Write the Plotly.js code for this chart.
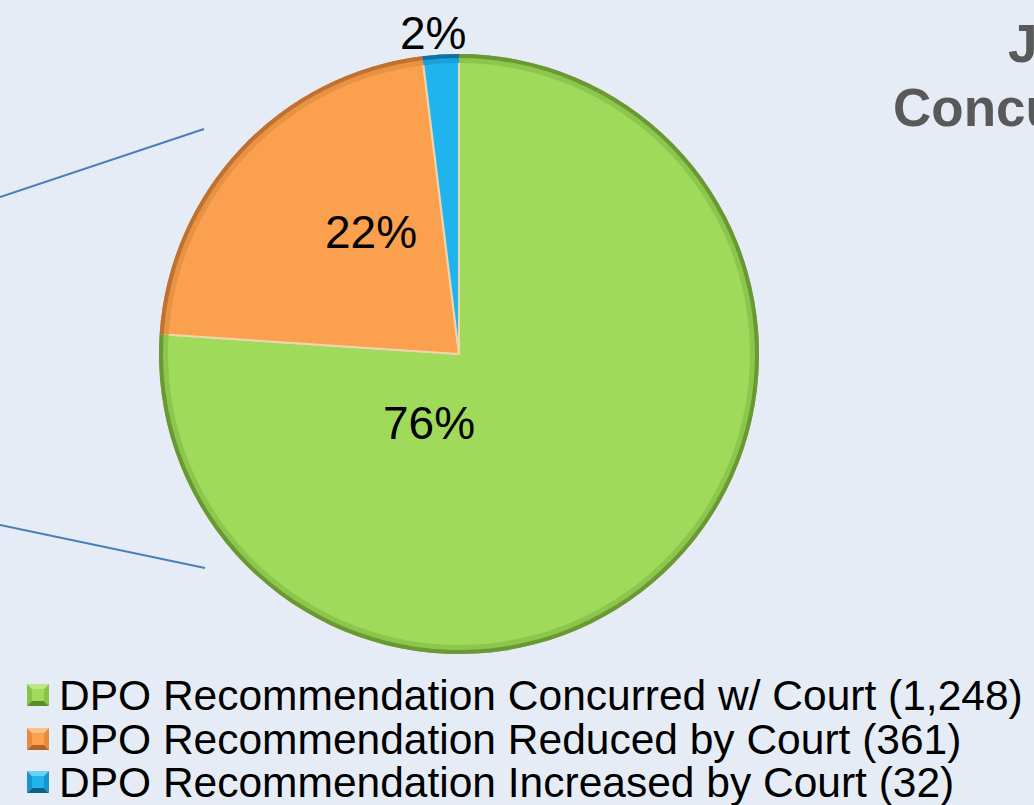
<!DOCTYPE html>
<html>
<head>
<meta charset="utf-8">
<script src="https://cdn.plot.ly/plotly-3.0.1.min.js"></script>
<style>
  html, body { margin: 0; padding: 0; background: #E6ECF6; }
  #chart { width: 1034px; height: 805px; }
</style>
</head>
<body>
<div id="chart"></div>
<script>
// ---- data ----
const categories = [
  "DPO Recommendation Concurred w/ Court",
  "DPO Recommendation Reduced by Court",
  "DPO Recommendation Increased by Court"
];
const counts = [1248, 361, 32];
const titleLines = ["J", "Concu"];

// ---- styling ----
const mainColors = ["#A0DA5A", "#FAA04E", "#20B4EE"];
const midColors  = ["#8CC64C", "#E89244", "#1AA0DA"];
const rimColors  = ["#6A9834", "#C07030", "#1072A4"];
const lightColors = ["#BDE784", "#FDC088", "#66D2FA"];
const darkColors  = ["#5E8A2E", "#B06426", "#0D5F8A"];
const sideColors  = ["#88C446", "#E68A3C", "#1896CC"];

const W = 1034, H = 805;
const px = x => x / W;
const py = y => 1 - y / H;

const total = counts.reduce((a, b) => a + b, 0);
const pctText = counts.map(v => Math.round(v / total * 100) + "%");
const legendText = categories.map((c, i) => c + " (" + counts[i].toLocaleString("en-US") + ")");

// pie geometry (layout)
const cx = 459, cy = 354, R = 300;

function pieLayer(colors, inset, hole, lineW) {
  return {
    type: "pie",
    values: counts,
    labels: categories,
    sort: false,
    direction: "clockwise",
    rotation: 0,
    hole: hole,
    textinfo: "none",
    hoverinfo: "label+value+percent",
    showlegend: false,
    marker: { colors: colors, line: { color: "#EDD6AE", width: lineW } },
    domain: { x: [px(cx - R + inset), px(cx + R - inset)], y: [py(cy + R - inset), py(cy - R + inset)] }
  };
}
const traces = [
  pieLayer(mainColors, 1, 0, 2),
  pieLayer(midColors, 0, (R - 9) / R, 0),
  pieLayer(rimColors, 0, (R - 4) / R, 0)
];

const annotations = [];
const labelPos = [[429, 423], [371, 232], [433, 33]];
pctText.forEach((t, i) => {
  annotations.push({
    xref: "paper", yref: "paper", x: px(labelPos[i][0]), y: py(labelPos[i][1]),
    xanchor: "center", yanchor: "middle", showarrow: false, text: t,
    font: { family: "Liberation Sans, Arial, sans-serif", size: 46, color: "#000000" }
  });
});

// legend (custom)
const rowY = [695, 739, 782];
const shapes = [];
legendText.forEach((t, i) => {
  const y0 = rowY[i] - 11, y1 = rowY[i] + 11, x0 = 27, x1 = 49, xm = 38, ym = rowY[i];
  const tri = (pts, col) => shapes.push({
    type: "path", xref: "paper", yref: "paper", line: { width: 0 }, fillcolor: col,
    path: "M" + pts.map(p => px(p[0]) + "," + py(p[1])).join(" L") + " Z"
  });
  tri([[x0, y0], [x1, y0], [xm, ym]], lightColors[i]);
  tri([[x0, y0], [x0, y1], [xm, ym]], sideColors[i]);
  tri([[x1, y0], [x1, y1], [xm, ym]], sideColors[i]);
  tri([[x0, y1], [x1, y1], [xm, ym]], darkColors[i]);
  shapes.push({ type: "rect", xref: "paper", yref: "paper", x0: px(x0 + 5), x1: px(x1 - 5),
    y0: py(y1 - 5), y1: py(y0 + 5), line: { width: 0 }, fillcolor: mainColors[i] });
  annotations.push({
    xref: "paper", yref: "paper", x: px(57), y: py(rowY[i]),
    xanchor: "left", yanchor: "middle", showarrow: false, text: t,
    font: { family: "Liberation Sans, Arial, sans-serif", size: 42.5, color: "#000000" }
  });
});

// connector lines
shapes.push({ type: "line", xref: "paper", yref: "paper", x0: px(0), y0: py(197), x1: px(204), y1: py(129),
  line: { color: "#4A7EBB", width: 2 } });
shapes.push({ type: "line", xref: "paper", yref: "paper", x0: px(0), y0: py(525), x1: px(205), y1: py(568),
  line: { color: "#4A7EBB", width: 2 } });

// cropped title (cut at the right edge, as in the reference)
annotations.push({ xref: "paper", yref: "paper", x: px(1006), y: py(44), xanchor: "left", yanchor: "middle",
  showarrow: false, text: "<b>" + titleLines[0] + "</b>",
  font: { family: "Liberation Sans, Arial, sans-serif", size: 53, color: "#595959" } });
annotations.push({ xref: "paper", yref: "paper", x: px(891), y: py(108), xanchor: "left", yanchor: "middle",
  showarrow: false, text: "<b>" + titleLines[1] + "</b>",
  font: { family: "Liberation Sans, Arial, sans-serif", size: 53, color: "#595959" } });

const layout = {
  width: W, height: H,
  margin: { l: 0, r: 0, t: 0, b: 0, pad: 0 },
  paper_bgcolor: "#E6ECF6",
  plot_bgcolor: "#E6ECF6",
  showlegend: false,
  annotations: annotations,
  shapes: shapes
};

Plotly.newPlot("chart", traces, layout, { displayModeBar: false, staticPlot: true });
</script>
</body>
</html>
